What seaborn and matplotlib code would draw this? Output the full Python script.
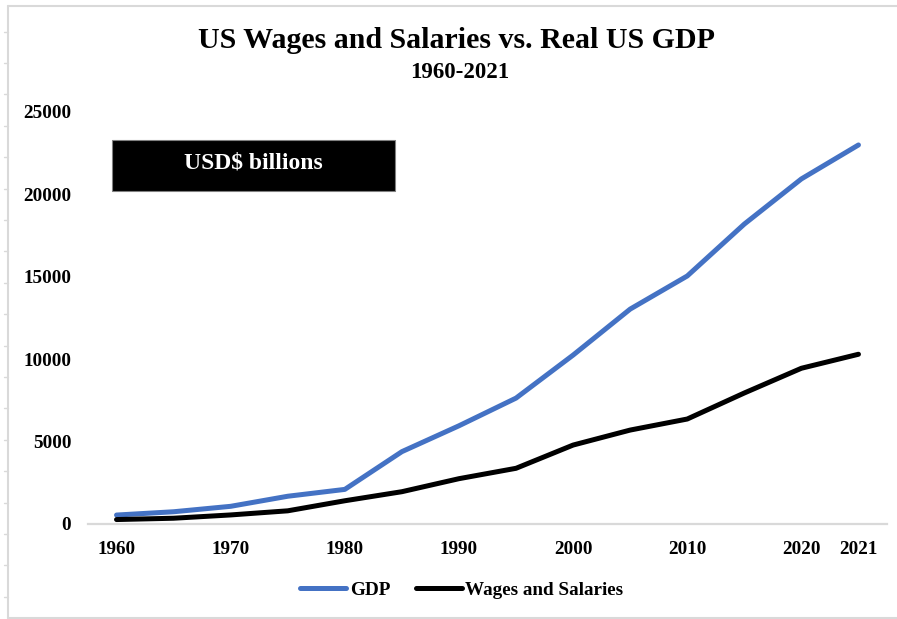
import numpy as np
import pandas as pd
import matplotlib
matplotlib.use("Agg")
import matplotlib.pyplot as plt
from matplotlib.lines import Line2D
from matplotlib.patches import Rectangle
import seaborn as sns

# ---- data ----
years = ["1960", "1965", "1970", "1975", "1980", "1985", "1990", "1995",
         "2000", "2005", "2010", "2015", "2020", "2021"]
gdp = [543, 743, 1073, 1684, 2100, 4390, 5960, 7640,
       10250, 13040, 15050, 18200, 20940, 23000]
wages = [270, 350, 550, 800, 1410, 1960, 2750, 3380,
         4790, 5700, 6370, 7950, 9450, 10300]
shown_labels = ["1960", "1970", "1980", "1990", "2000", "2010", "2020", "2021"]
y_ticks = [0, 5000, 10000, 15000, 20000, 25000]

df = pd.DataFrame({
    "pos": np.arange(len(years)),
    "Year": years,
    "GDP": gdp,
    "Wages and Salaries": wages,
})
long = df.melt(id_vars=["pos", "Year"], var_name="Series", value_name="Value")

sns.set_theme(style="white")
plt.rcParams["font.family"] = ["Liberation Serif", "DejaVu Serif"]
plt.rcParams["font.weight"] = "bold"
plt.rcParams["text.color"] = "black"
plt.rcParams["axes.labelcolor"] = "black"
plt.rcParams["xtick.color"] = "black"
plt.rcParams["ytick.color"] = "black"

W, H = 897, 619
fig = plt.figure(figsize=(W / 100, H / 100), dpi=100)
ax = fig.add_axes([88 / W, 1 - 524 / H, (887 - 88) / W, (524 - 112) / H])

palette = {"GDP": "#4472C4", "Wages and Salaries": "#000000"}
sns.lineplot(data=long, x="pos", y="Value", hue="Series", palette=palette,
             linewidth=3.6, sort=False, ax=ax, legend=False)

ax.set_xlim(-0.5, len(years) - 0.5)
ax.set_ylim(0, 25000)
ax.set_yticks(y_ticks)
ax.set_yticklabels([str(v) for v in y_ticks])
tick_pos = [years.index(l) for l in shown_labels]
ax.set_xticks(tick_pos)
ax.set_xticklabels(shown_labels)
ax.set_xlabel("")
ax.set_ylabel("")
ax.tick_params(axis="both", length=0, labelsize=13.8, colors="black")
ax.tick_params(axis="y", pad=12)
ax.tick_params(axis="x", pad=12)
for lab in ax.get_xticklabels() + ax.get_yticklabels():
    lab.set_fontweight("bold")
    lab.set_color("black")
for s in ["top", "right", "left"]:
    ax.spines[s].set_visible(False)
ax.spines["bottom"].set_color("#D9D9D9")
ax.spines["bottom"].set_linewidth(1.6)
ax.grid(False)

# Titles
fig.text(457 / W, 1 - 41 / H, "US Wages and Salaries vs. Real US GDP",
         ha="center", va="center", fontsize=21.5, fontweight="bold",
         color="black")
fig.text(460 / W, 1 - 73 / H, "1960-2021", ha="center", va="center",
         fontsize=16.5, fontweight="bold", color="black")

# Black unit box
fig.add_artist(Rectangle((112 / W, 1 - 191 / H), 283 / W, 51 / H,
                         transform=fig.transFigure, facecolor="black",
                         edgecolor="#808080", linewidth=0.8))
fig.text(253 / W, 1 - 163 / H, "USD$ billions", ha="center", va="center",
         color="white", fontsize=17, fontweight="bold")

# Legend
handles = [Line2D([], [], color=palette[k], lw=3.6) for k in palette]
leg = fig.legend(handles, list(palette.keys()), loc="center",
                 bbox_to_anchor=(462 / W, 1 - 590 / H), ncol=2, frameon=False,
                 handlelength=2.4, handletextpad=0.2, columnspacing=1.3,
                 prop={"weight": "bold", "size": 13.8})
for t in leg.get_texts():
    t.set_color("black")

# Outer frame decoration
grey = "#D9D9D9"
fig.add_artist(Line2D([8 / W, 8 / W], [1 - 6 / H, 1 - 618 / H], color=grey,
                      lw=1.5, transform=fig.transFigure))
fig.add_artist(Line2D([8 / W, 1], [1 - 6 / H, 1 - 6 / H], color=grey,
                      lw=1.5, transform=fig.transFigure))
fig.add_artist(Line2D([8 / W, 1], [1 - 618 / H, 1 - 618 / H], color=grey,
                      lw=1.5, transform=fig.transFigure))
for yy in np.arange(31.6, 600, 31.4):
    fig.add_artist(Line2D([3.5 / W, 8 / W], [1 - yy / H, 1 - yy / H],
                          color=grey, lw=1.0, transform=fig.transFigure))

fig.savefig("out.png", dpi=100)
